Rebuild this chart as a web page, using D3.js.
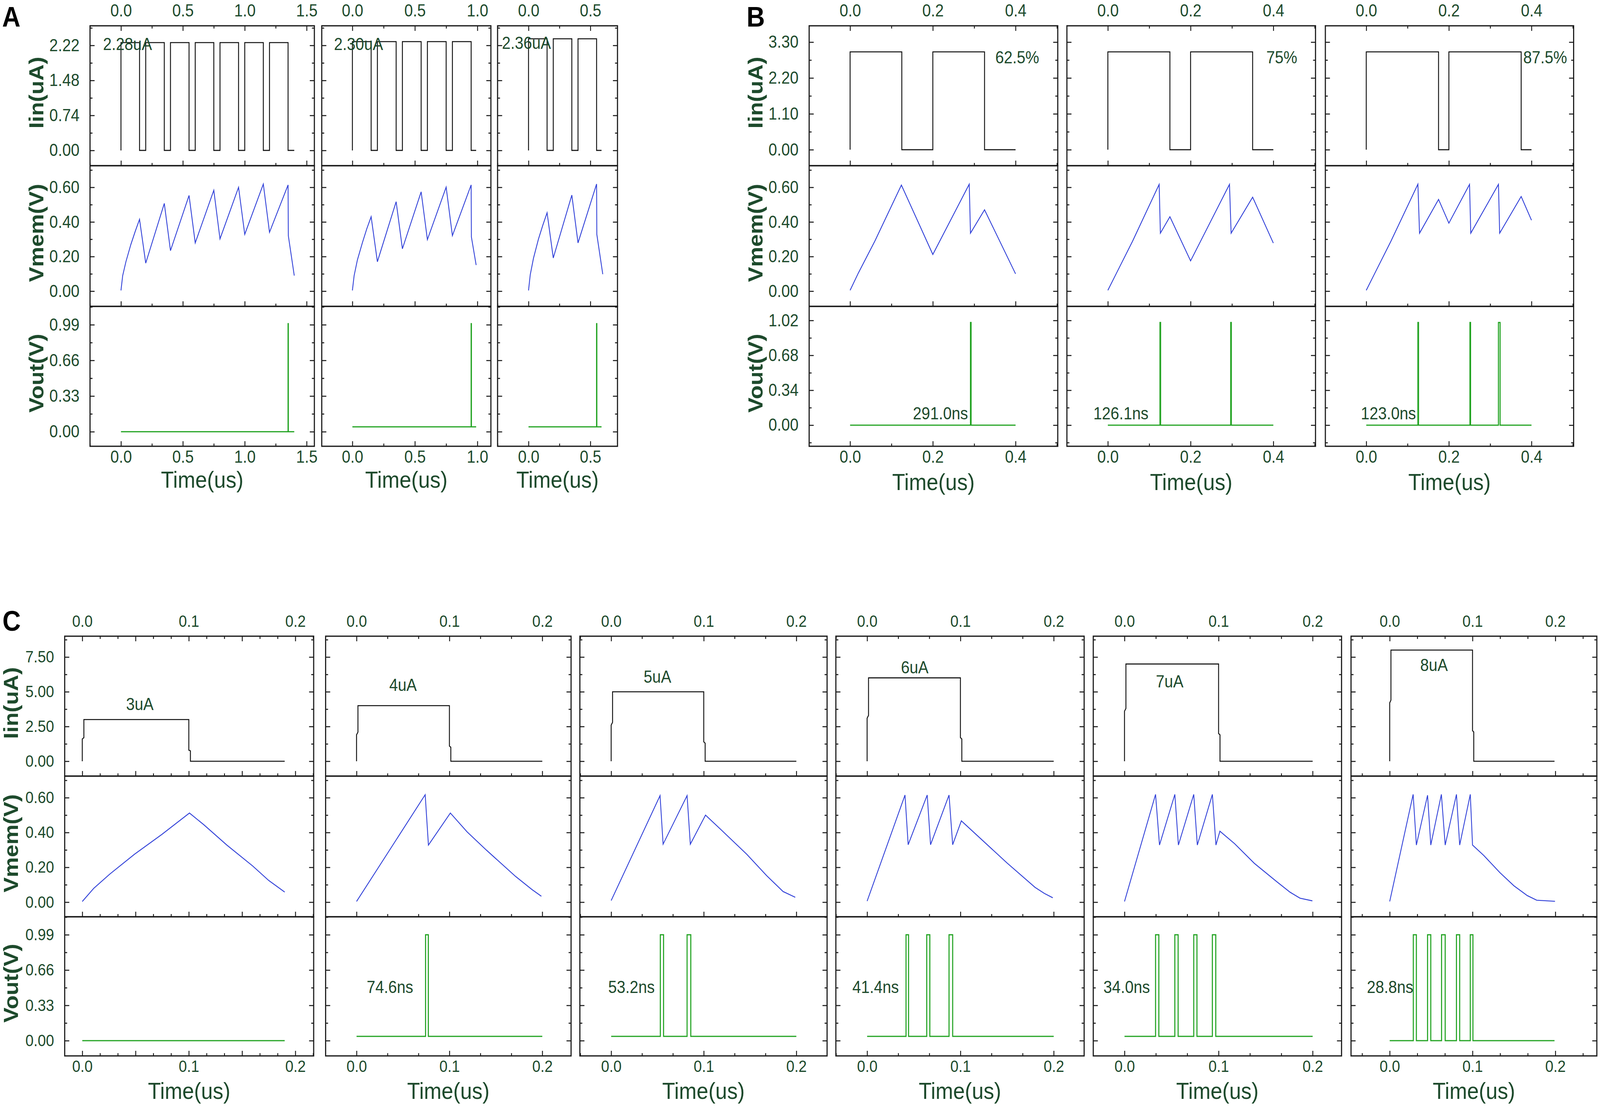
<!DOCTYPE html>
<html>
<head>
<meta charset="utf-8">
<script src="https://cdn.jsdelivr.net/npm/d3@7"></script>
<style>
  html, body { margin: 0; padding: 0; background: #fff; overflow: hidden; }
  #chart { display: block; width: 100vw; height: 100vh; }
</style>
</head>
<body>
<svg id="chart" viewBox="0 0 4550 2843" preserveAspectRatio="none"></svg>
<script>
// ---------- values (time in us) ----------

// Panel A: pulse trains of different length
const aIinLevel = [2.28, 2.30, 2.36];
const a1Pulses = [[0, 0.15], [0.2, 0.35], [0.4, 0.55], [0.6, 0.75], [0.8, 0.95], [1.0, 1.15], [1.2, 1.35]];
const a2Pulses = [[0, 0.15], [0.2, 0.35], [0.4, 0.55], [0.6, 0.75], [0.8, 0.95]];
const a3Pulses = [[0, 0.15], [0.2, 0.35], [0.4, 0.55]];
const aEnd = [1.40, 0.99, 0.59];
const a1Vmem = [[0, 0.004], [0.014, 0.09], [0.04, 0.17], [0.08, 0.27], [0.115, 0.345], [0.15, 0.415], [0.2, 0.162],
  [0.35, 0.507], [0.4, 0.234], [0.55, 0.553], [0.6, 0.279], [0.75, 0.583], [0.8, 0.302], [0.95, 0.60],
  [1.0, 0.328], [1.15, 0.619], [1.2, 0.34], [1.35, 0.614], [1.352, 0.321], [1.40, 0.09]];
const a2Vmem = [[0, 0.004], [0.014, 0.09], [0.04, 0.18], [0.08, 0.28], [0.115, 0.36], [0.15, 0.43], [0.2, 0.17],
  [0.35, 0.517], [0.4, 0.245], [0.55, 0.574], [0.6, 0.298], [0.75, 0.601], [0.8, 0.321], [0.95, 0.614],
  [0.952, 0.313], [0.99, 0.151]];
const a3Vmem = [[0, 0.004], [0.014, 0.095], [0.04, 0.19], [0.08, 0.30], [0.115, 0.38], [0.15, 0.453], [0.2, 0.192],
  [0.35, 0.555], [0.4, 0.279], [0.55, 0.619], [0.552, 0.328], [0.60, 0.098]];
const a1Spikes = [[1.35, 1.352]];
const a2Spikes = [[0.95, 0.952]];
const a3Spikes = [[0.55, 0.552]];
const aVoutBase = [0, 0.045, 0.045];
const aVoutTop = 1.0;
const aCurrentText = ['2.28uA', '2.30uA', '2.36uA'];

// Panel B: duty cycle
const bIinLevel = 3.0;
const b1Pulses = [[0, 0.125], [0.2, 0.325]];
const b2Pulses = [[0, 0.15], [0.2, 0.35]];
const b3Pulses = [[0, 0.175], [0.2, 0.375]];
const bEnd = 0.4;
const b1Vmem = [[0, 0.005], [0.02, 0.105], [0.06, 0.29], [0.124, 0.613], [0.2, 0.212], [0.288, 0.618],
  [0.291, 0.335], [0.325, 0.47], [0.4, 0.10]];
const b2Vmem = [[0, 0.005], [0.02, 0.10], [0.06, 0.29], [0.124, 0.617], [0.127, 0.335], [0.15, 0.43],
  [0.2, 0.175], [0.294, 0.617], [0.298, 0.335], [0.35, 0.543], [0.4, 0.278]];
const b3Vmem = [[0, 0.005], [0.02, 0.10], [0.06, 0.29], [0.125, 0.618], [0.129, 0.335], [0.175, 0.53],
  [0.2, 0.393], [0.25, 0.617], [0.253, 0.335], [0.32, 0.617], [0.323, 0.335], [0.375, 0.547], [0.4, 0.41]];
const b1Spikes = [[0.291, 0.2925]];
const b2Spikes = [[0.126, 0.1275], [0.297, 0.2985]];
const b3Spikes = [[0.125, 0.1265], [0.251, 0.2525], [0.320, 0.324]];
const bVoutTop = 1.0;
const bDutyText = ['62.5%', '75%', '87.5%'];
const bDelayText = ['291.0ns', '126.1ns', '123.0ns'];

// Panel C: input amplitude
const c1Iin = [[0, 0], [0, 1.6], [0.0015, 1.7], [0.0015, 3], [0.1, 3], [0.1, 0.8], [0.1015, 0.75], [0.1015, 0], [0.19, 0]];
const c2Iin = [[0, 0], [0, 1.9], [0.0015, 2.1], [0.0015, 4], [0.1, 4], [0.1, 1.1], [0.1015, 1.0], [0.1015, 0], [0.2, 0]];
const c3Iin = [[0, 0], [0, 2.6], [0.0015, 2.8], [0.0015, 5], [0.1, 5], [0.1, 1.4], [0.1015, 1.3], [0.1015, 0], [0.2, 0]];
const c4Iin = [[0, 0], [0, 3.1], [0.0015, 3.3], [0.0015, 6], [0.1, 6], [0.1, 1.7], [0.1015, 1.6], [0.1015, 0], [0.2, 0]];
const c5Iin = [[0, 0], [0, 3.6], [0.0015, 3.8], [0.0015, 7], [0.1, 7], [0.1, 2.0], [0.1015, 1.9], [0.1015, 0], [0.2, 0]];
const c6Iin = [[0, 0], [0, 4.2], [0.0015, 4.4], [0.0015, 8], [0.1, 8], [0.1, 2.2], [0.1015, 2.1], [0.1015, 0], [0.199, 0]];
const c1Vmem = [[0, 0.004], [0.0107, 0.079], [0.026, 0.162], [0.049, 0.275], [0.0747, 0.389], [0.1006, 0.512],
  [0.114, 0.445], [0.1357, 0.328], [0.16, 0.2075], [0.175, 0.1245], [0.19, 0.058]];
const c2Vmem = [[0, 0.004], [0.0739, 0.617], [0.0774, 0.328], [0.101, 0.512], [0.119, 0.404], [0.14, 0.298],
  [0.1714, 0.147], [0.189, 0.072], [0.199, 0.034]];
const c3Vmem = [[0, 0.009], [0.0528, 0.612], [0.0561, 0.333], [0.082, 0.612], [0.0855, 0.333], [0.1019, 0.50],
  [0.1183, 0.418], [0.1465, 0.275], [0.168, 0.152], [0.1857, 0.061], [0.1988, 0.028]];
const c4Vmem = [[0, 0.006], [0.0406, 0.615], [0.044, 0.33], [0.0644, 0.615], [0.068, 0.33], [0.0878, 0.615],
  [0.0917, 0.33], [0.101, 0.467], [0.15, 0.225], [0.18, 0.085], [0.19, 0.05], [0.199, 0.025]];
const c5Vmem = [[0, 0.004], [0.033, 0.619], [0.0372, 0.328], [0.0535, 0.619], [0.0573, 0.328], [0.0736, 0.619],
  [0.0774, 0.328], [0.0934, 0.619], [0.0972, 0.328], [0.1014, 0.4075], [0.117, 0.336], [0.138, 0.223],
  [0.162, 0.117], [0.176, 0.057], [0.1865, 0.023], [0.1997, 0.0075]];
const c6Vmem = [[0, 0.004], [0.0283, 0.619], [0.0322, 0.328], [0.0457, 0.614], [0.0496, 0.328], [0.0624, 0.619],
  [0.067, 0.328], [0.0806, 0.619], [0.0845, 0.328], [0.0973, 0.619], [0.1, 0.328], [0.1136, 0.268],
  [0.133, 0.17], [0.15, 0.094], [0.166, 0.038], [0.1775, 0.011], [0.1996, 0.005]];
const c1Pulses = [];
const c2Pulses = [[0.0743, 0.0773]];
const c3Pulses = [[0.0531, 0.0566], [0.082, 0.086]];
const c4Pulses = [[0.0417, 0.0444], [0.0639, 0.0672], [0.0878, 0.0917]];
const c5Pulses = [[0.033, 0.0365], [0.0535, 0.057], [0.0736, 0.077], [0.0934, 0.097]];
const c6Pulses = [[0.0285, 0.0322], [0.0457, 0.0496], [0.0626, 0.067], [0.0806, 0.0845], [0.0973, 0.1005]];
const cEnd = [0.19, 0.2, 0.2, 0.2, 0.2, 0.199];
const cVoutBase = [0, 0.04, 0.04, 0.04, 0.04, 0];
const cVoutTop = 0.99;
const cCurrentText = ['3uA', '4uA', '5uA', '6uA', '7uA', '8uA'];
const cDelayText = ['', '74.6ns', '53.2ns', '41.4ns', '34.0ns', '28.8ns'];

const rowTitles = ['Iin(uA)', 'Vmem(V)', 'Vout(V)'];

// ---------- helper that turns the read edges into step traces ----------
function stepTrace(level, pulses, end, base) {
  const pts = [];
  pulses.forEach(([s, e]) => {
    pts.push([s, base], [s, level], [e, level], [e, base]);
  });
  if (!pts.length) pts.push([0, base]);
  if (pts[0][0] > 0) pts.unshift([0, base]);
  pts.push([end, base]);
  return pts;
}

// ---------- layout ----------
const TEXT = '#1d4a2c';
const FONT = '"Liberation Sans", Arial, Helvetica, sans-serif';
const rowsAB = [66, 424, 784, 1142];
const rowsC = [1628, 1986, 2346, 2702];

const yAxesA = [
  { domain: [-0.323, 2.635], step: 0.74 },
  { domain: [-0.088, 0.725], step: 0.2 },
  { domain: [-0.135, 1.16], step: 0.33 }
];
const yAxesB = [
  { domain: [-0.49, 3.80], step: 1.1 },
  { domain: [-0.088, 0.725], step: 0.2 },
  { domain: [-0.206, 1.157], step: 0.34 }
];
const yAxesC = [
  { domain: [-1.07, 9.0], step: 2.5 },
  { domain: [-0.084, 0.724], step: 0.2 },
  { domain: [-0.1425, 1.158], step: 0.33 }
];

const plots = [
  { left: 256, right: 894, rows: rowsAB, y: yAxesA, x: [-0.25, 1.5625], xStep: 0.5, xLab: 0.5, minor: 1, first: true, fs: 44, timeDy: 106,
    iin: stepTrace(aIinLevel[0], a1Pulses, aEnd[0], 0), vmem: a1Vmem, vout: stepTrace(aVoutTop, a1Spikes, aEnd[0], aVoutBase[0]),
    notes: [{ row: 0, t: -0.145, v: 2.12, text: aCurrentText[0], anchor: 'start' }] },
  { left: 915, right: 1396, rows: rowsAB, y: yAxesA, x: [-0.245, 1.108], xStep: 0.5, xLab: 0.5, minor: 1, fs: 44, timeDy: 106,
    iin: stepTrace(aIinLevel[1], a2Pulses, aEnd[1], 0), vmem: a2Vmem, vout: stepTrace(aVoutTop, a2Spikes, aEnd[1], aVoutBase[1]),
    notes: [{ row: 0, t: -0.147, v: 2.12, text: aCurrentText[1], anchor: 'start' }] },
  { left: 1415, right: 1756, rows: rowsAB, y: yAxesA, x: [-0.25, 0.719], xStep: 0.5, xLab: 0.5, minor: 1, fs: 44, timeDy: 106,
    iin: stepTrace(aIinLevel[2], a3Pulses, aEnd[2], 0), vmem: a3Vmem, vout: stepTrace(aVoutTop, a3Spikes, aEnd[2], aVoutBase[2]),
    notes: [{ row: 0, t: -0.215, v: 2.15, text: aCurrentText[2], anchor: 'start' }] },

  { left: 2301, right: 3008, rows: rowsAB, y: yAxesB, x: [-0.099, 0.502], xStep: 0.2, xLab: 0.2, minor: 1, first: true, fs: 44, timeDy: 112,
    iin: stepTrace(bIinLevel, b1Pulses, bEnd, 0), vmem: b1Vmem, vout: stepTrace(bVoutTop, b1Spikes, bEnd, 0),
    notes: [{ row: 0, t: 0.351, v: 2.65, text: bDutyText[0], anchor: 'start' },
            { row: 2, t: 0.285, v: 0.057, text: bDelayText[0], anchor: 'end' }] },
  { left: 3034, right: 3741, rows: rowsAB, y: yAxesB, x: [-0.099, 0.502], xStep: 0.2, xLab: 0.2, minor: 1, fs: 44, timeDy: 112,
    iin: stepTrace(bIinLevel, b2Pulses, bEnd, 0), vmem: b2Vmem, vout: stepTrace(bVoutTop, b2Spikes, bEnd, 0),
    notes: [{ row: 0, t: 0.383, v: 2.65, text: bDutyText[1], anchor: 'start' },
            { row: 2, t: -0.035, v: 0.057, text: bDelayText[1], anchor: 'start' }] },
  { left: 3769, right: 4475, rows: rowsAB, y: yAxesB, x: [-0.099, 0.502], xStep: 0.2, xLab: 0.2, minor: 1, fs: 44, timeDy: 112,
    iin: stepTrace(bIinLevel, b3Pulses, bEnd, 0), vmem: b3Vmem, vout: stepTrace(bVoutTop, b3Spikes, bEnd, 0),
    notes: [{ row: 0, t: 0.38, v: 2.65, text: bDutyText[2], anchor: 'start' },
            { row: 2, t: -0.013, v: 0.057, text: bDelayText[2], anchor: 'start' }] }
];

const cBoxes = [[184, 892], [926, 1624], [1649, 2352], [2377, 3083], [3109, 3815], [3842, 4541]];
const cDomains = [[-0.0165, 0.2172], [-0.0333, 0.231], [-0.0338, 0.2332], [-0.0335, 0.2326], [-0.0332, 0.2307], [-0.0467, 0.2501]];
const cIin = [c1Iin, c2Iin, c3Iin, c4Iin, c5Iin, c6Iin];
const cVmem = [c1Vmem, c2Vmem, c3Vmem, c4Vmem, c5Vmem, c6Vmem];
const cPulses = [c1Pulses, c2Pulses, c3Pulses, c4Pulses, c5Pulses, c6Pulses];
const cCurrentPos = [[0.054, 3.68], [0.050, 5.06], [0.05, 5.65], [0.051, 6.32], [0.048, 5.31], [0.0535, 6.49]];
const cDelayPos = [0, 0.061, 0.047, 0.034, 0.027, 0.0285];

cBoxes.forEach((b, i) => {
  const notes = [{ row: 0, t: cCurrentPos[i][0], v: cCurrentPos[i][1], text: cCurrentText[i], anchor: 'middle' }];
  if (cDelayText[i]) notes.push({ row: 2, t: cDelayPos[i], v: 0.446, text: cDelayText[i], anchor: 'end' });
  plots.push({
    left: b[0], right: b[1], rows: rowsC, y: yAxesC, x: cDomains[i],
    xStep: i === 0 ? 0.05 : 0.1, xLab: 0.1, minor: 2, first: i === 0, fs: 42, timeDy: 110,
    iin: cIin[i], vmem: cVmem[i], vout: stepTrace(cVoutTop, cPulses[i], cEnd[i], cVoutBase[i]),
    notes
  });
});

// ---------- drawing ----------
const svg = d3.select('#chart');
svg.append('rect').attr('width', 4550).attr('height', 2843).attr('fill', '#fff');

function majors(domain, step) {
  const k0 = Math.ceil(domain[0] / step - 1e-9), k1 = Math.floor(domain[1] / step + 1e-9);
  return d3.range(k0, k1 + 1).map(k => +(k * step).toFixed(6));
}
function minors(domain, step, n) {
  const ms = step / (n + 1);
  return majors(domain, ms).filter(v => Math.abs(v / step - Math.round(v / step)) > 1e-6);
}
function isMultiple(v, s) {
  return Math.abs(v / s - Math.round(v / s)) < 1e-6;
}

function addAxis(g, axis, transform, fs) {
  g.append('g')
    .attr('transform', transform)
    .call(axis)
    .call(a => {
      a.select('.domain').remove();
      a.attr('font-family', FONT).attr('font-size', fs);
      a.selectAll('line').attr('stroke', '#1a1a1a').attr('stroke-width', 2.6);
      a.selectAll('text').attr('fill', TEXT);
    });
}

const seriesStyle = [
  { key: 'iin', color: '#111111', width: 2.6 },
  { key: 'vmem', color: '#3040d8', width: 2.4 },
  { key: 'vout', color: '#22a322', width: 3 }
];

plots.forEach(p => {
  const g = svg.append('g');
  const x = d3.scaleLinear().domain(p.x).range([p.left, p.right]);
  const xMaj = majors(p.x, p.xStep);
  const xMin = minors(p.x, p.xStep, p.minor);
  const xFmt = d => isMultiple(d, p.xLab) ? d3.format('.1f')(d) : '';

  p.y.forEach((Y, r) => {
    const top = p.rows[r], bottom = p.rows[r + 1];
    const y = d3.scaleLinear().domain(Y.domain).range([bottom, top]);
    const yMaj = majors(Y.domain, Y.step);
    const yMin = minors(Y.domain, Y.step, 1);

    // left & right ticks, pointing inward
    addAxis(g, d3.axisLeft(y).tickValues(yMaj).tickSize(-13).tickSizeOuter(0).tickPadding(30)
      .tickFormat(p.first ? d3.format('.2f') : () => ''), `translate(${p.left},0)`, p.fs);
    addAxis(g, d3.axisLeft(y).tickValues(yMin).tickSize(-7).tickSizeOuter(0).tickFormat(() => ''), `translate(${p.left},0)`, p.fs);
    addAxis(g, d3.axisRight(y).tickValues(yMaj).tickSize(-13).tickSizeOuter(0).tickFormat(() => ''), `translate(${p.right},0)`, p.fs);
    addAxis(g, d3.axisRight(y).tickValues(yMin).tickSize(-7).tickSizeOuter(0).tickFormat(() => ''), `translate(${p.right},0)`, p.fs);

    // bottom ticks of every row, labels only on the last row
    addAxis(g, d3.axisBottom(x).tickValues(xMaj).tickSize(-13).tickSizeOuter(0).tickPadding(11)
      .tickFormat(r === 2 ? xFmt : () => ''), `translate(0,${bottom})`, p.fs);
    addAxis(g, d3.axisBottom(x).tickValues(xMin).tickSize(-7).tickSizeOuter(0).tickFormat(() => ''), `translate(0,${bottom})`, p.fs);
    if (r === 0) {
      addAxis(g, d3.axisTop(x).tickValues(xMaj).tickSize(-13).tickSizeOuter(0).tickPadding(24)
        .tickFormat(xFmt), `translate(0,${top})`, p.fs);
      addAxis(g, d3.axisTop(x).tickValues(xMin).tickSize(-7).tickSizeOuter(0).tickFormat(() => ''), `translate(0,${top})`, p.fs);
    }

    // trace
    const st = seriesStyle[r];
    g.append('path')
      .datum(p[st.key])
      .attr('fill', 'none')
      .attr('stroke', st.color)
      .attr('stroke-width', st.width)
      .attr('stroke-linejoin', 'miter')
      .attr('d', d3.line().x(d => x(d[0])).y(d => y(d[1])));

    // frame
    g.append('rect')
      .attr('x', p.left).attr('y', top)
      .attr('width', p.right - p.left).attr('height', bottom - top)
      .attr('fill', 'none').attr('stroke', '#1a1a1a').attr('stroke-width', 3.2);

    // annotations
    p.notes.filter(n => n.row === r).forEach(n => {
      g.append('text')
        .attr('x', x(n.t)).attr('y', y(n.v))
        .attr('text-anchor', n.anchor)
        .attr('font-family', FONT).attr('font-size', 44)
        .attr('fill', TEXT)
        .text(n.text);
    });

    // row titles on the first column of each panel
    if (p.first) {
      const cy = (top + bottom) / 2 - 8;
      g.append('text')
        .attr('transform', `translate(${p.left - 133},${cy}) rotate(-90)`)
        .attr('text-anchor', 'middle')
        .attr('font-family', FONT).attr('font-size', 58).attr('font-weight', 'bold')
        .attr('fill', TEXT)
        .text(rowTitles[r]);
    }
  });

  g.append('text')
    .attr('x', (p.left + p.right) / 2)
    .attr('y', p.rows[3] + p.timeDy)
    .attr('text-anchor', 'middle')
    .attr('font-family', FONT).attr('font-size', 60)
    .attr('fill', TEXT)
    .text('Time(us)');
});

// panel letters
const panelLetters = [['A', 6, 68], ['B', 2123, 68], ['C', 7, 1614]];
panelLetters.forEach(([t, lx, ly]) => {
  svg.append('text')
    .attr('x', lx).attr('y', ly)
    .attr('font-family', FONT).attr('font-size', 72).attr('font-weight', 'bold')
    .attr('fill', '#000')
    .text(t);
});
</script>
</body>
</html>
